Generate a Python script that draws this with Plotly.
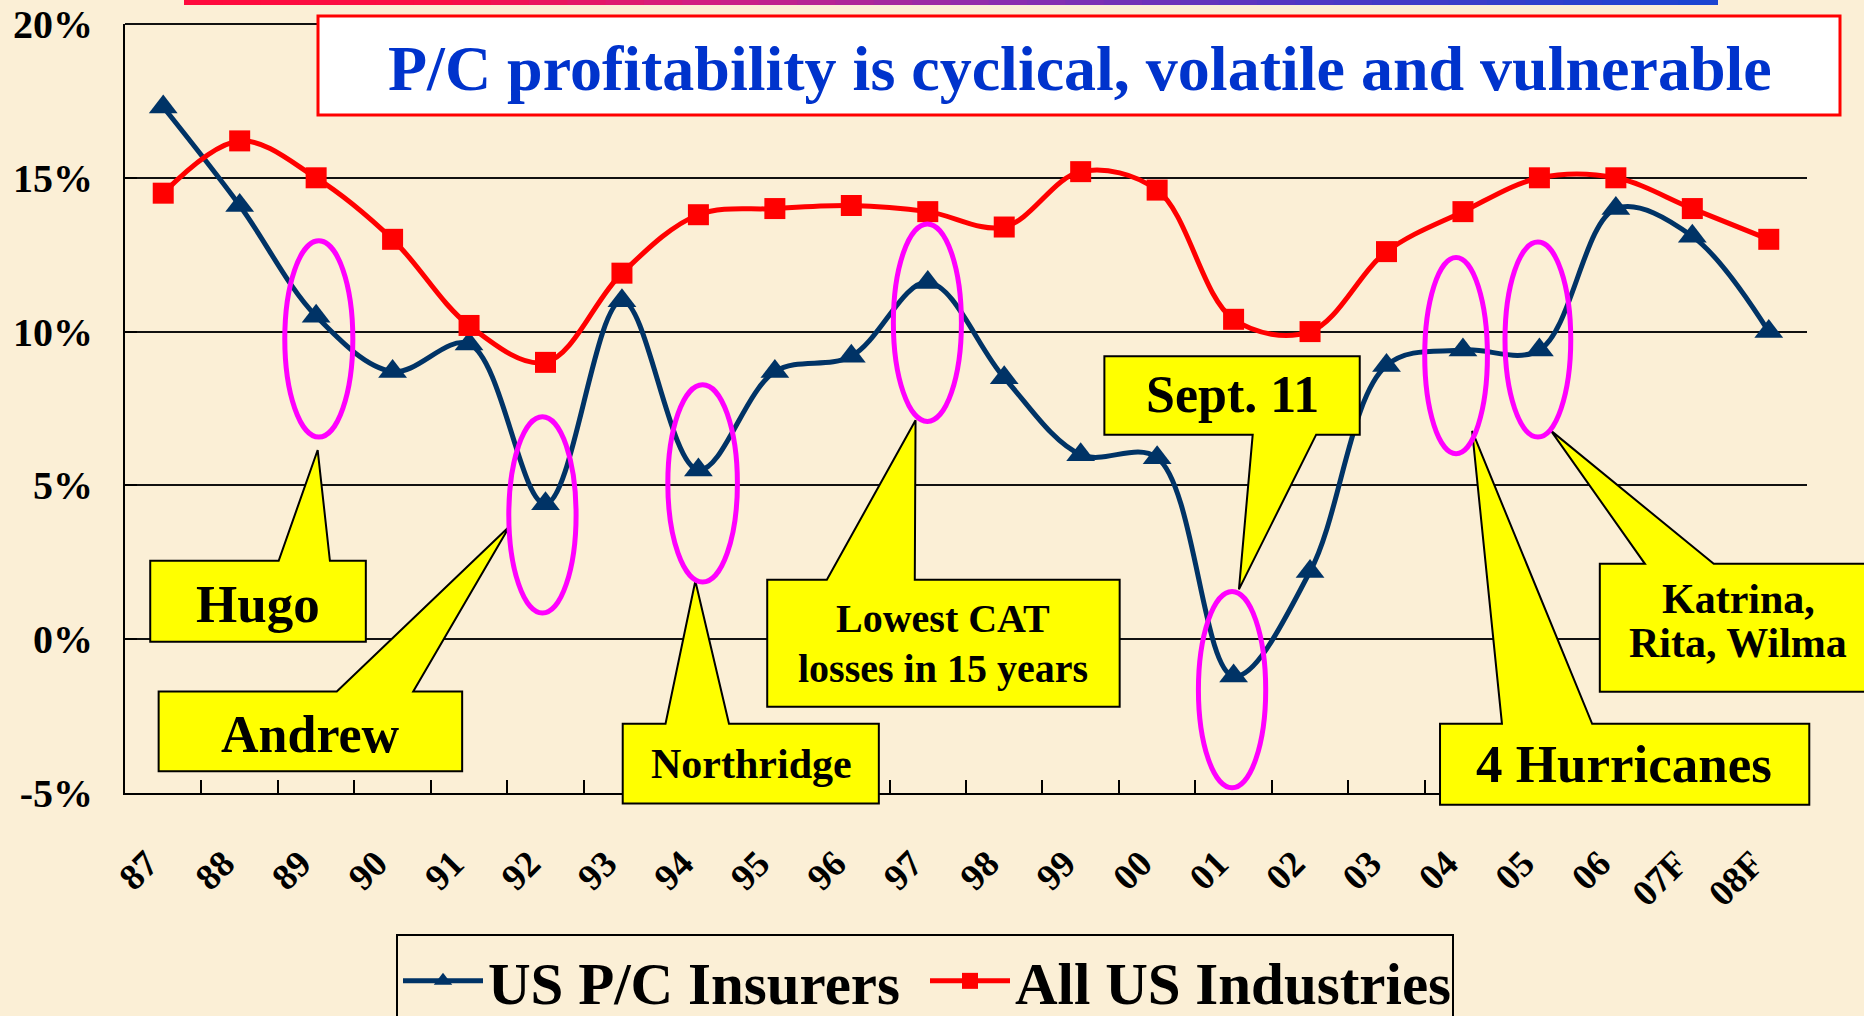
import plotly.graph_objects as go

# ---------------- data ----------------
years = ["87", "88", "89", "90", "91", "92", "93", "94", "95", "96", "97",
         "98", "99", "00", "01", "02", "03", "04", "05", "06", "07F", "08F"]
pc_insurers = [17.3, 14.1, 10.5, 8.7, 9.6, 4.4, 11.0, 5.5, 8.7, 9.2, 11.6,
               8.5, 6.0, 5.9, -1.2, 2.2, 8.9, 9.4, 9.4, 14.0, 13.1, 10.0]
all_industries = [14.5, 16.2, 15.0, 13.0, 10.2, 9.0, 11.9, 13.8, 14.0, 14.1, 13.9,
                  13.4, 15.2, 14.6, 10.4, 10.0, 12.6, 13.9, 15.0, 15.0, 14.0, 13.0]
series_names = ["US P/C Insurers", "All US Industries"]
y_tick_values = [-5, 0, 5, 10, 15, 20]
y_tick_labels = ["-5%", "0%", "5%", "10%", "15%", "20%"]
title_text = "P/C profitability is cyclical, volatile and vulnerable"
callout_texts = ["Hugo", "Andrew", "Northridge", "Lowest CAT<br>losses in 15 years",
                 "Sept. 11", "4 Hurricanes", "Katrina,<br>Rita, Wilma"]

# ---------------- geometry / style ----------------
FIG_W, FIG_H = 1864, 1016
PL, PR, PT, PB = 125, 1807, 24, 793      # plot area in px
Y_MIN, Y_MAX = -5, 20
N = len(years)

NAVY = "#003366"
RED = "#FF0000"
MAGENTA = "#FF00FF"
YELLOW = "#FFFF00"
BG = "#FBEFD6"
SERIF = "Liberation Serif, Times New Roman, serif"


def dx(i):   # category index -> paper x
    return (i + 0.5) / N


def dy(v):   # value -> paper y
    return (v - Y_MIN) / (Y_MAX - Y_MIN)


def px(x):   # pixel -> paper x
    return (x - PL) / (PR - PL)


def py(y):   # pixel -> paper y
    return (PB - y) / (PB - PT)


# callout geometry in (category index, value) units:
# box x0, x1, y0(bottom), y1(top), wedge base b0, b1, apex ax, ay, wedge side,
# text x, text y, font size, line gap (px)
callout_geom = [
    (-0.17, 2.65, -0.08, 2.55, 1.51, 2.18, 2.02, 6.15, "top", 1.24, 1.15, 53, 0),
    (-0.06, 3.91, -4.29, -1.70, 2.27, 3.27, 4.53, 3.67, "top", 1.93, -3.10, 52, 0),
    (6.01, 9.36, -5.34, -2.75, 6.57, 7.40, 6.96, 1.89, "top", 7.69, -4.05, 42, 0),
    (7.90, 12.51, -2.20, 1.93, 8.68, 9.83, 9.84, 7.12, "top", 10.20, -0.15, 40, 50),
    (12.31, 15.65, 6.65, 9.20, 14.25, 15.08, 14.07, 1.62, "bottom", 13.98, 7.95, 52, 0),
    (16.70, 21.53, -5.38, -2.75, 17.51, 18.69, 17.12, 6.77, "top", 19.11, -4.05, 53, 0),
    (18.79, 22.60, -1.71, 2.45, 19.38, 20.28, 18.15, 6.78, "top", 20.60, 0.60, 42, 44),
]
# ellipse geometry: x0, x1, y0, y1
ellipse_geom = [
    (1.59, 2.48, 6.57, 12.95),
    (4.52, 5.40, 0.85, 7.23),
    (6.60, 7.51, 1.86, 8.27),
    (9.55, 10.44, 7.08, 13.50),
    (13.54, 14.42, -4.83, 1.55),
    (16.50, 17.32, 6.03, 12.41),
    (17.55, 18.41, 6.57, 12.91),
]

fig = go.Figure()
fig.add_trace(go.Scatter(
    x=years, y=pc_insurers, name=series_names[0], mode="lines+markers",
    line=dict(color=NAVY, width=5, shape="spline", smoothing=1.0),
    marker=dict(symbol="triangle-up", size=25, color=NAVY),
))
fig.add_trace(go.Scatter(
    x=years, y=all_industries, name=series_names[1], mode="lines+markers",
    line=dict(color=RED, width=5, shape="spline", smoothing=1.0),
    marker=dict(symbol="square", size=21, color=RED),
))

shapes = []
annotations = []

# 20% grid segment at the top edge (visible left of the title box)
shapes.append(dict(type="line", xref="paper", yref="paper", x0=0, x1=px(320), y0=1, y1=1,
                   line=dict(color="#111111", width=2), layer="below"))

# top gradient banner (decoration)
stops = [(184, (255, 10, 60)), (450, (250, 15, 70)), (700, (210, 30, 130)),
         (1000, (140, 45, 175)), (1300, (80, 55, 195)), (1717, (25, 70, 210))]
nseg = 40
x_start, x_end = stops[0][0], stops[-1][0]
for k in range(nseg):
    xa = x_start + (x_end - x_start) * k / nseg
    xb = x_start + (x_end - x_start) * (k + 1) / nseg + 1
    xm = (xa + xb) / 2
    for j in range(len(stops) - 1):
        if stops[j][0] <= xm <= stops[j + 1][0]:
            t = (xm - stops[j][0]) / (stops[j + 1][0] - stops[j][0])
            c = [round(stops[j][1][m] + t * (stops[j + 1][1][m] - stops[j][1][m])) for m in range(3)]
            break
    shapes.append(dict(type="rect", xref="paper", yref="paper",
                       x0=px(xa), x1=px(xb), y0=py(5), y1=py(-2),
                       fillcolor=f"rgb({c[0]},{c[1]},{c[2]})", line=dict(width=0), layer="above"))

# title box
shapes.append(dict(type="rect", xref="paper", yref="paper",
                   x0=px(318), x1=px(1840), y0=py(115), y1=py(16),
                   fillcolor="white", line=dict(color=RED, width=3), layer="above"))
annotations.append(dict(text=title_text, xref="paper", yref="paper",
                        x=px(1080), y=py(68), xanchor="center", yanchor="middle",
                        showarrow=False,
                        font=dict(family=SERIF, size=64, color="#0033CC", weight="bold")))

# callouts
for text, g in zip(callout_texts, callout_geom):
    x0, x1, y0, y1, b0, b1, ax, ay, side, tx, ty, fs, gap = g
    if side == "top":
        pts = [(x0, y1), (b0, y1), (ax, ay), (b1, y1), (x1, y1), (x1, y0), (x0, y0)]
    else:
        pts = [(x0, y1), (x1, y1), (x1, y0), (b1, y0), (ax, ay), (b0, y0), (x0, y0)]
    path = "M " + " L ".join(f"{dx(a):.5f},{dy(b):.5f}" for a, b in pts) + " Z"
    shapes.append(dict(type="path", xref="paper", yref="paper", path=path,
                       fillcolor=YELLOW, line=dict(color="black", width=2), layer="above"))
    lines = text.split("<br>")
    n_lines = len(lines)
    for i, ln in enumerate(lines):
        shift = ((n_lines - 1) / 2 - i) * gap
        annotations.append(dict(text=ln, xref="paper", yref="paper", x=dx(tx), y=dy(ty),
                                yshift=shift, xanchor="center", yanchor="middle", showarrow=False,
                                font=dict(family=SERIF, size=fs, color="black", weight="bold")))

# ellipses
for e in ellipse_geom:
    shapes.append(dict(type="circle", xref="paper", yref="paper",
                       x0=dx(e[0]), x1=dx(e[1]), y0=dy(e[2]), y1=dy(e[3]),
                       line=dict(color=MAGENTA, width=5), fillcolor="rgba(0,0,0,0)", layer="above"))

fig.update_layout(
    width=FIG_W, height=FIG_H,
    margin=dict(l=PL, r=FIG_W - PR, t=PT, b=FIG_H - PB, pad=0, autoexpand=False),
    paper_bgcolor=BG, plot_bgcolor=BG,
    shapes=shapes, annotations=annotations,
    showlegend=True,
    legend=dict(orientation="h", x=px(396), y=py(934), xanchor="left", yanchor="top",
                bgcolor="rgba(0,0,0,0)", bordercolor="black", borderwidth=2,
                itemwidth=80, entrywidth=432, entrywidthmode="pixels",
                font=dict(family=SERIF, size=59, color="black", weight="bold")),
    xaxis=dict(type="category", range=[-0.5, N - 0.5], showgrid=False, zeroline=False,
               showline=True, linecolor="black", linewidth=2,
               ticks="inside", tickson="boundaries", ticklen=13, tickwidth=2, tickcolor="black",
               tickangle=-45, ticklabelstandoff=32, ticklabelshift=-16,
               tickfont=dict(family=SERIF, size=37, color="black", weight="bold")),
    yaxis=dict(range=[Y_MIN, Y_MAX], tickvals=y_tick_values, ticktext=y_tick_labels,
               showgrid=True, gridcolor="#111111", gridwidth=2, zeroline=False,
               showline=True, linecolor="black", linewidth=2,
               ticks="inside", ticklen=12, tickwidth=2, tickcolor="black",
               ticklabelstandoff=22,
               tickfont=dict(family=SERIF, size=40, color="black", weight="bold")),
)

fig.write_html("out.html", config={"displayModeBar": False},
               post_script="document.body.style.margin='0';document.body.style.overflow='hidden';")
